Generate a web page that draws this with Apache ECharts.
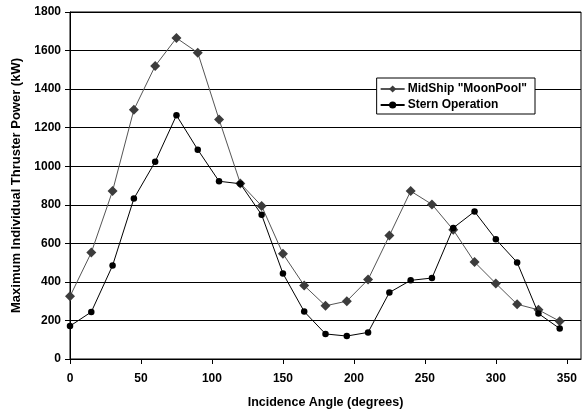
<!DOCTYPE html>
<html>
<head>
<meta charset="utf-8">
<script src="https://cdn.jsdelivr.net/npm/echarts@6/dist/echarts.min.js"></script>
<style>html,body{margin:0;padding:0;background:#fff}#c{width:588px;height:414px}</style>
</head>
<body>
<div id="c"></div>
<script>
const angles = [0,15,30,45,60,75,90,105,120,135,150,165,180,195,210,225,240,255,270,285,300,315,330,345];
const midship = [325,552,872,1293,1520,1665,1589,1243,911,794,546,381,276,300,412,640,871,802,670,503,392,284,255,196];
const stern = [171,244,485,832,1023,1264,1086,922,909,748,444,246,130,119,138,345,408,420,680,765,621,501,236,158];
const xTicks = [0,50,100,150,200,250,300,350];
const seriesNames = ['MidShip "MoonPool"', 'Stern Operation'];
const xTitle = 'Incidence Angle (degrees)';
const yTitle = 'Maximum Individual Thruster Power (kW)';

const font = 'Liberation Sans, Arial, sans-serif';
const chart = echarts.init(document.getElementById('c'), null, {renderer: 'canvas'});
const pair = arr => angles.map((a, i) => [a, arr[i]]);
chart.setOption({
  animation: false,
  backgroundColor: '#fff',
  grid: {left: 70, right: 7, top: 12, bottom: 54, show: true, borderColor: '#000', borderWidth: 1, backgroundColor: 'transparent'},
  legend: {
    right: 53, top: 78, orient: 'vertical', align: 'left',
    backgroundColor: '#fff', borderColor: '#000', borderWidth: 1,
    padding: [5, 8, 3, 3], itemGap: 4, itemWidth: 24, itemHeight: 9,
    textStyle: {fontFamily: font, fontWeight: 'bold', fontSize: 12, color: '#000', padding: [1,0,0,-2]},
    data: seriesNames
  },
  xAxis: {
    type: 'value', min: 0, max: 360, interval: 50,
    name: xTitle, nameLocation: 'middle', nameGap: 37,
    nameTextStyle: {fontFamily: font, fontWeight: 'bold', fontSize: 12.5, color: '#000'},
    axisLine: {lineStyle: {color: '#000', width: 1}},
    axisTick: {show: true, length: 5, lineStyle: {color: '#000'}, customValues: xTicks},
    axisLabel: {fontFamily: font, fontWeight: 'bold', fontSize: 12, color: '#000', margin: 14, customValues: xTicks,
      formatter: v => String(v)},
    splitLine: {show: false}
  },
  yAxis: {
    type: 'value', min: 0, max: 1800, interval: 200,
    name: yTitle, nameLocation: 'middle', nameGap: 44, nameRotate: 90,
    nameTextStyle: {fontFamily: font, fontWeight: 'bold', fontSize: 13, color: '#000'},
    axisLine: {show: true, lineStyle: {color: '#000', width: 1}},
    axisTick: {show: true, length: 5, lineStyle: {color: '#000'}},
    axisLabel: {fontFamily: font, fontWeight: 'bold', fontSize: 12, color: '#000', margin: 9,
      formatter: v => String(v)},
    splitLine: {show: true, lineStyle: {color: '#000', width: 1}}
  },
  series: [
    {
      name: seriesNames[0], type: 'line', data: pair(midship),
      symbol: 'diamond', symbolSize: 10,
      lineStyle: {color: '#555', width: 1},
      itemStyle: {color: '#3c3c3c', borderWidth: 0},
      z: 3
    },
    {
      name: seriesNames[1], type: 'line', data: pair(stern),
      symbol: 'circle', symbolSize: 6.5,
      lineStyle: {color: '#000', width: 1},
      itemStyle: {color: '#000', borderWidth: 0},
      z: 4
    }
  ]
});
</script>
</body>
</html>
